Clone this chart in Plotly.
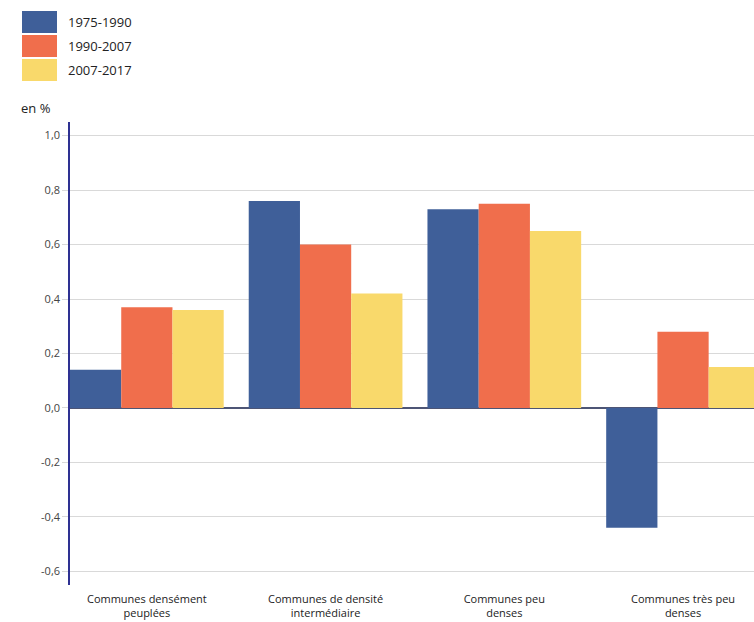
import plotly.graph_objects as go

categories = [
    "Communes densément<br>peuplées",
    "Communes de densité<br>intermédiaire",
    "Communes peu<br>denses",
    "Communes très peu<br>denses",
]
series_names = ["1975-1990", "1990-2007", "2007-2017"]
values_1975_1990 = [0.14, 0.76, 0.73, -0.44]
values_1990_2007 = [0.37, 0.60, 0.75, 0.28]
values_2007_2017 = [0.36, 0.42, 0.65, 0.15]
colors = ["#3f5f99", "#f06e4c", "#f9d96b"]
y_ticks = [1.0, 0.8, 0.6, 0.4, 0.2, 0.0, -0.2, -0.4, -0.6]
y_tick_labels = ["1,0", "0,8", "0,6", "0,4", "0,2", "0,0", "-0,2", "-0,4", "-0,6"]

font = "Open Sans, Noto Sans, sans-serif"

W, H = 754, 622
ML, MR, MT, MB = 70, 0, 122, 37

fig = go.Figure()
for name, vals, col in zip(series_names,
                           [values_1975_1990, values_1990_2007, values_2007_2017],
                           colors):
    fig.add_trace(go.Bar(
        x=list(range(len(categories))), y=vals, name=name,
        marker=dict(color=col, line=dict(width=0)),
        showlegend=False,
    ))

fig.update_layout(
    width=W, height=H,
    margin=dict(l=ML, r=MR, t=MT, b=MB),
    plot_bgcolor="white", paper_bgcolor="white",
    barmode="group", bargap=0.14, bargroupgap=0,
    font=dict(family=font, size=11, color="#333333"),
    xaxis=dict(
        range=[-0.43, 3.397],
        tickvals=list(range(len(categories))),
        ticktext=categories,
        showgrid=False, zeroline=False, showline=False,
        ticks="", ticklabelstandoff=6, automargin=False,
        tickfont=dict(size=11, color="#222222"),
        fixedrange=True,
    ),
    yaxis=dict(
        range=[-0.65, 1.05],
        tickvals=y_ticks, ticktext=y_tick_labels,
        showgrid=True, gridcolor="#d9d9d9", gridwidth=1,
        zeroline=True, zerolinecolor="#4d5575", zerolinewidth=1.5,
        showline=True, linecolor="#2e3192", linewidth=1.5,
        ticks="outside", ticklen=6, tickcolor="#d9d9d9",
        automargin=False,
        tickfont=dict(size=11, color="#444444"),
        fixedrange=True,
    ),
)

# Convert pixel positions on the page to paper coordinates
plot_w = W - ML - MR
plot_h = H - MT - MB


def px_x(x):
    return (x - ML) / plot_w


def px_y(y):
    return (H - MB - y) / plot_h


# Legend: colored squares with period labels
for i, (name, col) in enumerate(zip(series_names, colors)):
    top = 11 + i * 24
    fig.add_shape(type="rect", xref="paper", yref="paper",
                  x0=px_x(22), x1=px_x(57), y0=px_y(top + 22), y1=px_y(top),
                  fillcolor=col, line=dict(width=0), layer="above")
    fig.add_annotation(xref="paper", yref="paper", x=px_x(66), y=px_y(top + 11),
                       xanchor="left", yanchor="middle", text=name,
                       showarrow=False, font=dict(size=13, color="#222222"))

# Unit label above the y axis
fig.add_annotation(xref="paper", yref="paper", x=px_x(19), y=px_y(108),
                   xanchor="left", yanchor="middle", text="en %",
                   showarrow=False, font=dict(size=13, color="#222222"))

fig.write_html("out.html")
